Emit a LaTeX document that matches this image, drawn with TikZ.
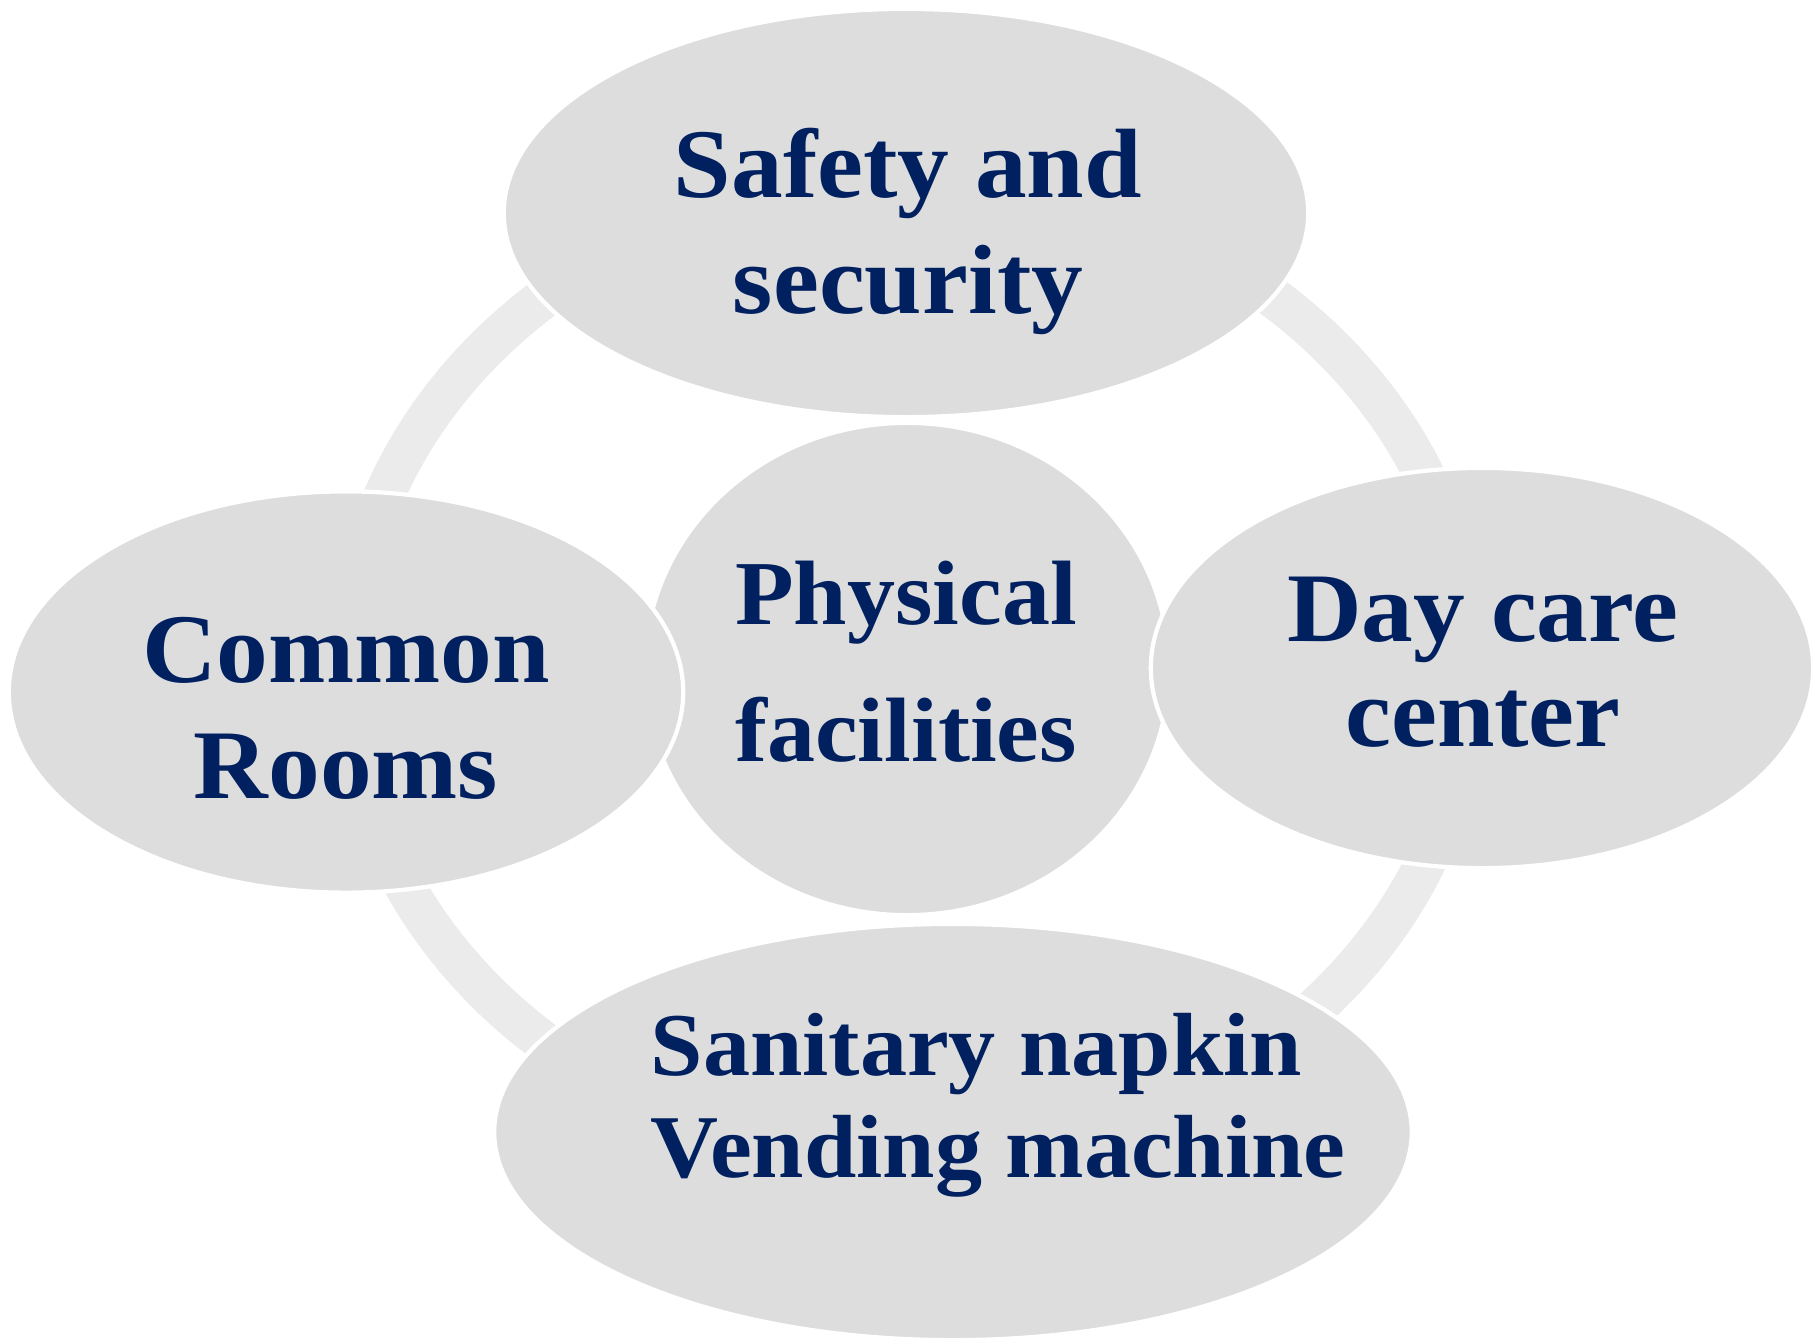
\documentclass[tikz,border=0pt]{standalone}
\usepackage{fontspec}
\setmainfont[FakeStretch=1.05]{Liberation Serif}
\usetikzlibrary{shapes.geometric}
\definecolor{navy}{HTML}{002060}
\definecolor{blobgray}{HTML}{DDDDDD}
\definecolor{ringgray}{HTML}{EBEBEB}

\begin{document}
\begin{tikzpicture}[x=0.01cm,y=-0.01cm,
  blob/.style={ellipse,fill=blobgray,draw=white,line width=1.2pt,inner sep=0pt,outer sep=0pt},
  caption/.style={text=navy,font=\bfseries\fontsize{28}{33}\selectfont,align=center,inner sep=0pt}]
\useasboundingbox (0,0) rectangle (1814,1341);

% ring behind the bubbles
\draw[ringgray,line width=0.41cm] (909,670) ellipse [x radius=561.5,y radius=489.5];

\node[blob,minimum width=5.24cm,minimum height=4.92cm] (hub) at (907,669) {};
\node[blob,minimum width=8.04cm,minimum height=4.08cm] (safety) at (906,213) {};
\node[blob,minimum width=6.74cm,minimum height=4.01cm] (rooms) at (346,692) {};
\node[blob,minimum width=6.62cm,minimum height=4.00cm] (daycare) at (1482,668) {};
\node[blob,minimum width=9.17cm,minimum height=4.16cm] (vending) at (953,1132) {};

\node[caption,font=\bfseries\fontsize{26}{39}\selectfont] (hubtext) at (906,662) {Physical\\facilities};
\node[caption] (safetytext) at (908,231) {Safety and\\security};
\node[caption] (roomstext) at (346,708) {Common\\Rooms};
\node[caption,font=\bfseries\fontsize{28}{30}\selectfont] (daycaretext) at (1483,662) {Day care\\center};
\node[caption,font=\bfseries\fontsize{25.5}{29}\selectfont,align=left,anchor=west] (vendingtext) at (650,1105) {Sanitary napkin\\Vending machine};
\end{tikzpicture}
\end{document}
